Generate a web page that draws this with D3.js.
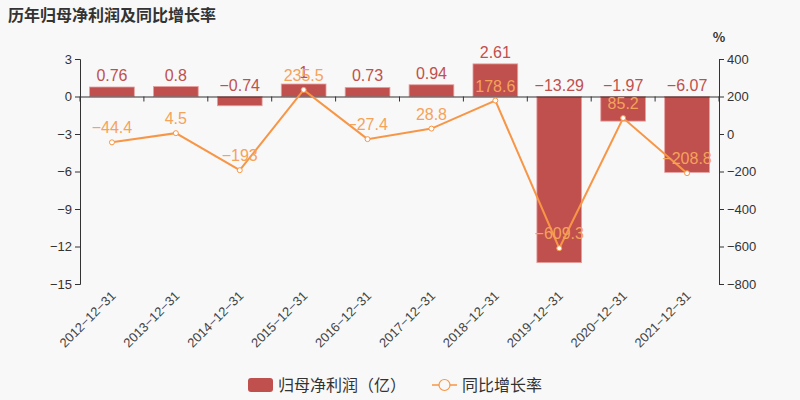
<!DOCTYPE html>
<html><head><meta charset="utf-8">
<script src="https://cdn.jsdelivr.net/npm/d3@7"></script>
<style>body{margin:0;background:#f8f8f8;}svg{display:block;font-family:"Noto Sans CJK SC","Noto Sans",sans-serif;}</style>
</head><body><svg id="c" width="800" height="400"></svg>
<script>
const categories = ["2012-12-31","2013-12-31","2014-12-31","2015-12-31","2016-12-31","2017-12-31","2018-12-31","2019-12-31","2020-12-31","2021-12-31"];
const profit = [0.76,0.8,-0.74,1,0.73,0.94,2.61,-13.29,-1.97,-6.07];
const growth = [-44.4,4.5,-193,235.5,-27.4,28.8,178.6,-609.3,85.2,-208.8];
const leftTicks = [3,0,-3,-6,-9,-12,-15];
const rightTicks = [400,200,0,-200,-400,-600,-800];
const title = "历年归母净利润及同比增长率";
const legendNames = ["归母净利润（亿）","同比增长率"];

const barColor = "#c0504d", lineColor = "#f79646", lineLabel = "#f5a25a";
const svg = d3.select("#c");
svg.append("rect").attr("width",800).attr("height",400).attr("fill","#f8f8f8");
const L=80,R=719,T=59,B=284;
const x = d3.scaleBand().domain(categories).range([L,R]).paddingInner(0.3).paddingOuter(0.15);
const xb = d3.scaleBand().domain(categories).range([L,R]);
const yL = d3.scaleLinear().domain([-15,3]).range([B,T]);
const yR = d3.scaleLinear().domain([-800,400]).range([B,T]);
const fmt = v => String(v).replace("-","−");

svg.append("text").attr("x",8).attr("y",21).attr("font-size",16).attr("font-weight","bold").attr("fill","#333").text(title);

// axes
const gl = svg.append("g").attr("transform",`translate(${L},0)`).call(d3.axisLeft(yL).tickValues(leftTicks).tickSize(5).tickFormat(fmt));
const gr = svg.append("g").attr("transform",`translate(${R},0)`).call(d3.axisRight(yR).tickValues(rightTicks).tickSize(5).tickFormat(fmt));
[gl,gr].forEach(g=>{g.select(".domain").attr("stroke","#333");g.selectAll(".tick line").attr("stroke","#333");g.selectAll("text").attr("fill","#333").attr("font-size",13).attr("font-family","Liberation Sans, Arial, sans-serif");});
svg.append("text").attr("x",719).attr("y",42).attr("text-anchor","middle").attr("font-size",13).attr("fill","#333").attr("font-weight","bold").text("%");

// bars
svg.selectAll(".bar").data(profit).enter().append("rect")
  .attr("x",(d,i)=>x(categories[i])).attr("width",x.bandwidth())
  .attr("y",d=>yL(Math.max(0,d))).attr("height",d=>Math.abs(yL(d)-yL(0)))
  .attr("fill",barColor).attr("stroke","#e8a0a0").attr("stroke-width",0.8);

// x axis at zero
const gx = svg.append("g").attr("transform",`translate(0,${yL(0)})`).call(d3.axisBottom(xb).tickSize(5).tickFormat(""));
gx.select(".domain").attr("stroke","#333");
gx.selectAll(".tick line").attr("stroke","#333").attr("transform",`translate(${-xb.bandwidth()/2},0)`);
gx.append("line").attr("x1",R).attr("x2",R).attr("y1",0).attr("y2",5).attr("stroke","#333");
// x labels
svg.selectAll(".xl").data(categories).enter().append("text")
  .attr("transform",d=>`translate(${xb(d)+xb.bandwidth()/2},${B+8}) rotate(-45)`)
  .attr("text-anchor","end").attr("dy","0.5em").attr("font-size",13).attr("fill","#444")
  .attr("font-family","Liberation Sans, Arial, sans-serif").text(d=>d.replace(/-/g,"−"));

// bar labels
svg.selectAll(".bl").data(profit).enter().append("text")
  .attr("x",(d,i)=>x(categories[i])+x.bandwidth()/2).attr("y",d=>Math.min(yL(d),yL(0))-6)
  .attr("text-anchor","middle").attr("font-size",16).attr("fill",barColor)
  .attr("font-family","Liberation Sans, Arial, sans-serif").text(fmt);

// line
const cx = i => xb(categories[i])+xb.bandwidth()/2;
svg.append("path").datum(growth).attr("fill","none").attr("stroke",lineColor).attr("stroke-width",2)
  .attr("d",d3.line().x((d,i)=>cx(i)).y(d=>yR(d)));
svg.selectAll(".pt").data(growth).enter().append("circle").attr("cx",(d,i)=>cx(i)).attr("cy",d=>yR(d)).attr("r",2.5)
  .attr("fill","#fff").attr("stroke",lineColor).attr("stroke-width",1);
svg.selectAll(".ll").data(growth).enter().append("text")
  .attr("x",(d,i)=>cx(i)).attr("y",d=>yR(d)-9).attr("text-anchor","middle").attr("font-size",16)
  .attr("fill",lineLabel).attr("font-family","Liberation Sans, Arial, sans-serif").text(fmt);

// legend
const lg = svg.append("g");
lg.append("rect").attr("x",248).attr("y",378).attr("width",25).attr("height",14).attr("rx",3).attr("fill",barColor);
lg.append("text").attr("x",278).attr("y",391).attr("font-size",16).attr("fill","#333").text(legendNames[0]);
lg.append("line").attr("x1",432).attr("x2",457).attr("y1",385).attr("y2",385).attr("stroke",lineColor).attr("stroke-width",1.5);
lg.append("circle").attr("cx",444.5).attr("cy",385).attr("r",5.5).attr("fill","#f8f8f8").attr("stroke",lineColor).attr("stroke-width",1.2);
lg.append("text").attr("x",462).attr("y",391).attr("font-size",16).attr("fill","#333").text(legendNames[1]);
</script></body></html>
